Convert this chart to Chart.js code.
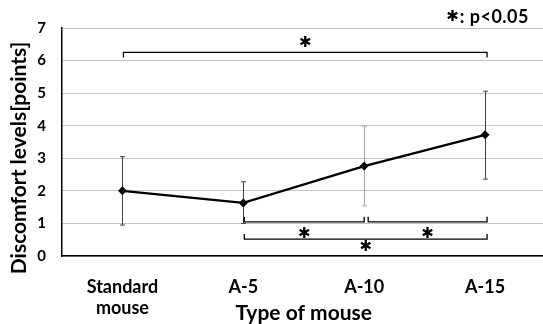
<!DOCTYPE html>
<html><head><meta charset="utf-8">
<script src="https://cdn.jsdelivr.net/npm/chart.js@4"></script>
<style>html,body{margin:0;padding:0;overflow:hidden;background:#fff;width:543px;height:324px}canvas{display:block}</style>
</head><body><canvas id="c" width="550" height="324"></canvas>
<script>
const categories = [['Standard', 'mouse'], 'A-5', 'A-10', 'A-15'];
const meanValues = [2.0, 1.63, 2.76, 3.72];
const errLower = [0.95, 1.0, 1.54, 2.36];
const errUpper = [3.05, 2.28, 3.99, 5.06];
const yTicks = [0, 1, 2, 3, 4, 5, 6, 7];
const yTitle = 'Discomfort levels[points]';
const xTitle = 'Type of mouse';
const noteStar = '\u2731';
const noteText = ': p<0.05';
const starText = '\u2731';
// significance brackets: category index from / to, bracket level, star level
const bracketFrom = [0, 1, 2, 1];
const bracketTo = [3, 2, 3, 3];
const bracketLevel = [6.25, 1.05, 1.05, 0.52];
const starLevel = [6.55, 0.68, 0.68, 0.28];

const errColors = ['#404040', '#404040', '#a6a6a6', '#404040'];
const FONT = 'Lato, "Open Sans", sans-serif';
const STARFONT = 'bold 15px "DejaVu Sans"';

const overlay = {
  id: 'overlay',
  beforeDatasetsDraw(chart) {
    const {ctx, scales: {x, y}} = chart;
    ctx.save();
    ctx.lineWidth = 1;
    meanValues.forEach((v, i) => {
      const px = Math.round(x.getPixelForValue(i)) + 0.5;
      const yt = y.getPixelForValue(errUpper[i]);
      const yb = y.getPixelForValue(errLower[i]);
      ctx.strokeStyle = errColors[i];
      ctx.beginPath();
      ctx.moveTo(px, yt); ctx.lineTo(px, yb);
      ctx.moveTo(px - 2.5, yt); ctx.lineTo(px + 2.5, yt);
      ctx.moveTo(px - 2.5, yb); ctx.lineTo(px + 2.5, yb);
      ctx.stroke();
    });
    ctx.restore();
  },
  afterDraw(chart) {
    const {ctx, scales: {x, y}} = chart;
    ctx.save();
    ctx.strokeStyle = '#000';
    ctx.lineWidth = 1.3;
    bracketFrom.forEach((f, k) => {
      const t = bracketTo[k];
      const top = k === 0;
      const gapL = (f === 2 && k === 2) ? 4 : 1;
      const gapR = (t === 2 && k === 1) ? 0 : 2;
      const x1 = x.getPixelForValue(f) + gapL;
      const x2 = x.getPixelForValue(t) + gapR;
      const by = y.getPixelForValue(bracketLevel[k]);
      const tick = top ? 5 : -5;
      ctx.beginPath();
      ctx.moveTo(x1, by + tick); ctx.lineTo(x1, by); ctx.lineTo(x2, by); ctx.lineTo(x2, by + tick);
      ctx.stroke();
      ctx.fillStyle = '#000';
      ctx.font = STARFONT;
      ctx.textAlign = 'center';
      ctx.textBaseline = 'middle';
      ctx.fillText(starText, (x1 + x2) / 2, y.getPixelForValue(starLevel[k]));
    });
    // note
    ctx.fillStyle = '#000';
    ctx.textBaseline = 'alphabetic';
    ctx.textAlign = 'right';
    ctx.font = 'bold 18px ' + FONT;
    ctx.letterSpacing = '0.5px';
    ctx.fillText(noteText, 529, 23);
    const w = ctx.measureText(noteText).width;
    ctx.letterSpacing = '0px';
    ctx.font = STARFONT;
    ctx.textBaseline = 'middle';
    ctx.fillText(noteStar, 529 - w - 1, 17);
    // y title
    ctx.save();
    ctx.translate(19, 158);
    ctx.rotate(-Math.PI / 2);
    ctx.font = 'bold 21px ' + FONT;
    ctx.textAlign = 'center';
    ctx.textBaseline = 'middle';
    ctx.fillText(yTitle, 0, 0);
    ctx.restore();
    ctx.restore();
  }
};

new Chart(document.getElementById('c'), {
  type: 'line',
  data: {
    labels: categories,
    datasets: [{
      data: meanValues,
      borderColor: '#000',
      backgroundColor: '#000',
      borderWidth: 2.2,
      pointStyle: 'rectRot',
      pointRadius: 4.5,
      pointBorderWidth: 0,
      tension: 0
    }]
  },
  options: {
    responsive: false,
    animation: false,
    events: [],
    layout: {padding: {top: 28, right: 2, left: 0, bottom: 0}},
    plugins: {legend: {display: false}, tooltip: {enabled: false}},
    scales: {
      x: {
        offset: true,
        afterFit(s) { s.height = 68; },
        grid: {display: false, drawTicks: false},
        border: {color: '#000', width: 1.5},
        ticks: {color: '#000', font: {family: FONT, weight: 'bold', size: 18, lineHeight: 1.2}, padding: 20, maxRotation: 0},
        title: {display: true, text: xTitle, color: '#000', font: {family: FONT, weight: 'bold', size: 21, lineHeight: 1.2}, padding: {top: 0, bottom: -2}}
      },
      y: {
        min: 0, max: 7,
        afterFit(s) { s.width = 62; },
        afterBuildTicks(s) { s.ticks = yTicks.map(v => ({value: v})); },
        grid: {color: '#c4c4c4', lineWidth: 1, drawTicks: false},
        border: {color: '#000', width: 1.5},
        ticks: {color: '#000', font: {family: FONT, weight: 'bold', size: 15}, padding: 16},
        title: {display: false}
      }
    }
  },
  plugins: [overlay]
});
</script>
</body></html>
